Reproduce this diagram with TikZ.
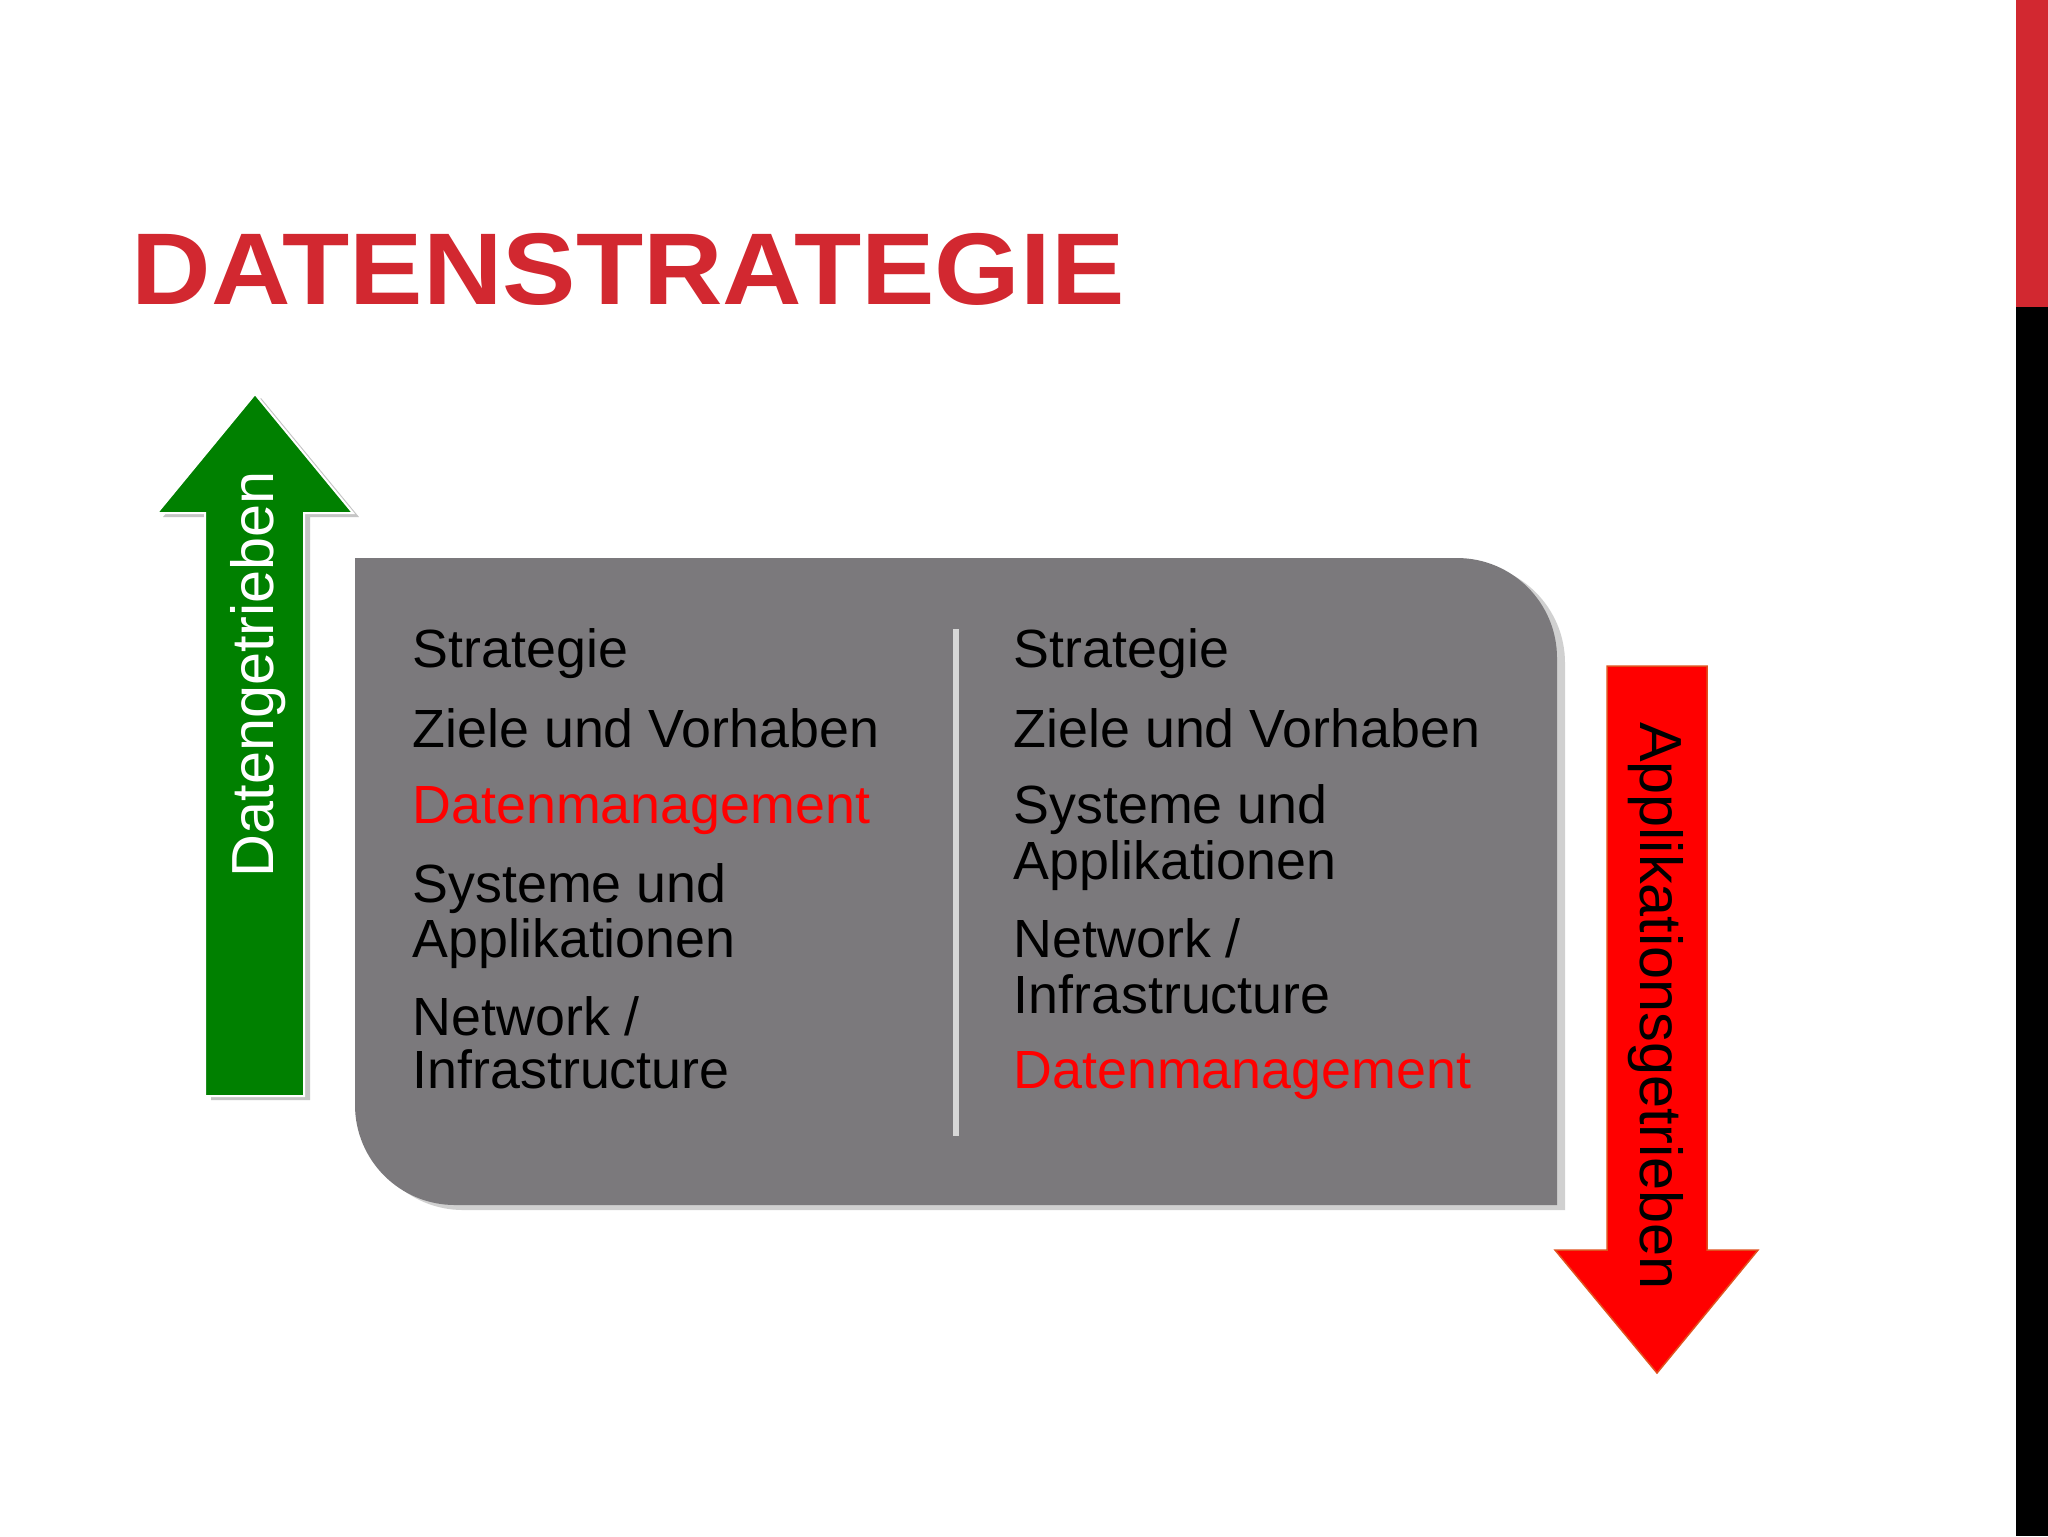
\documentclass[tikz,border=0pt]{standalone}
\usepackage{color}
\usepackage[dvipsnames]{xcolor}
\usepackage{pgf,tikz}
\usetikzlibrary{shadows}
\usepackage{fontspec}
\setmainfont{Liberation Sans}
\definecolor{titlered}{RGB}{210,40,48}
\definecolor{boxgray}{RGB}{123,121,124}
\definecolor{arrowgreen}{RGB}{0,128,0}
\definecolor{arrowedge}{RGB}{225,80,30}
\definecolor{linegray}{RGB}{215,215,215}

\begin{document}
\begin{tikzpicture}[x=0.1mm,y=-0.1mm,
  txt/.style={anchor=base west,inner sep=0pt,font=\fontsize{15.3pt}{15.6pt}\selectfont},
  rotlabel/.style={anchor=base,inner sep=0pt,font=\fontsize{16.9pt}{18pt}\selectfont}]
\fill[white](0,0) rectangle (2048,1536);
\fill[titlered](2016,0) rectangle (2048,307);
\fill[black](2016,307) rectangle (2048,1536);
\node(TITLE)[anchor=base west,inner sep=0pt,text=titlered,font=\fontsize{29pt}{30pt}\selectfont\bfseries]at(131,304){\scalebox{1.08}[1]{DATENSTRATEGIE}};
% grauer Kasten
\fill[boxgray,drop shadow={shadow xshift=0.8mm,shadow yshift=-0.5mm,fill=black!30,opacity=0.6}](355,558)--(1457,558) arc[start angle=-90,end angle=0,radius=100]--(1557,1205)--(455,1205) arc[start angle=90,end angle=180,radius=100]--cycle;
\draw[linegray,line width=0.6mm](956,629)--(956,1136);
% Pfeile
\fill[arrowgreen,draw=white,line width=0.2mm,drop shadow={shadow xshift=0.6mm,shadow yshift=-0.4mm,fill=black!45,opacity=0.5}](255,394)--(353,513)--(304,513)--(304,1096)--(205,1096)--(205,513)--(157,513)--cycle;
\filldraw[fill=red,draw=arrowedge,line width=0.15mm](1607,666)--(1707,666)--(1707,1250)--(1758,1250)--(1657,1373)--(1555,1250)--(1607,1250)--cycle;
\node(DG)[rotlabel,text=white,rotate=90]at(273,674){Datengetrieben};
\node(AG)[rotlabel,rotate=-90]at(1640,1006){Applikationsgetrieben};
% linke Spalte
\node(L1)[txt]at(412,667){Strategie};
\node(L2)[txt]at(412,747){Ziele und Vorhaben};
\node(L3)[txt,text=red]at(412,823){Datenmanagement};
\node(L4)[txt]at(412,902){Systeme und};
\node(L5)[txt]at(412,957){Applikationen};
\node(L6)[txt]at(412,1035){Network /};
\node(L7)[txt]at(412,1088){Infrastructure};
% rechte Spalte
\node(R1)[txt]at(1013,667){Strategie};
\node(R2)[txt]at(1013,747){Ziele und Vorhaben};
\node(R3)[txt]at(1013,823){Systeme und};
\node(R4)[txt]at(1013,879){Applikationen};
\node(R5)[txt]at(1013,957){Network /};
\node(R6)[txt]at(1013,1013){Infrastructure};
\node(R7)[txt,text=red]at(1013,1088){Datenmanagement};
\end{tikzpicture}
\end{document}
